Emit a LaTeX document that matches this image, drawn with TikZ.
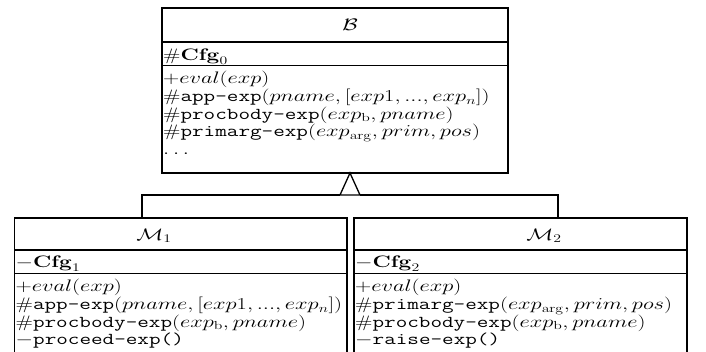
\RequirePackage{fix-cm}
\documentclass[tikz,border=0pt]{standalone}
\usepackage{amsmath}
\usepackage{graphicx}
\newcommand\sqz[1]{\scalebox{1}[0.74]{#1}}
\newcommand\umlfont{\fontsize{22.5}{23.4}\selectfont}
\tikzset{
  umlline/.style={line width=1.3pt},
  umltext/.style={anchor=base west, inner sep=0pt, font=\umlfont},
  umltitle/.style={anchor=center, inner sep=0pt, font=\umlfont},
}
\begin{document}
\begin{tikzpicture}[x=1pt,y=-1pt]
\useasboundingbox (0,0) rectangle (706,352);
\clip (0,0) rectangle (706,352);
% ---- class B
\draw[umlline] (162,8) rectangle (508,173);
\draw[umlline] (162,42) -- (508,42);
\draw[umlline] (162,65.5) -- (508,65.5);
\node[umltitle] (Bt) at (350,25) {\sqz{$\mathcal{B}$}};
\node[umltext] (Ba) at (163,60.5) {\sqz{$\#\mathbf{Cfg}_0$}};
\node[umltext] (Bo) at (163,84) {\sqz{\begin{tabular}[t]{@{}l@{}}
$+eval(exp)$\\
$\#$\texttt{app-exp}$(pname,[exp1,...,exp_n])$\\
$\#$\texttt{procbody-exp}$(exp_{\mathrm{b}},pname)$\\
$\#$\texttt{primarg-exp}$(exp_{\mathrm{arg}},prim,pos)$\\
$\ldots$
\end{tabular}}};
% ---- class M1
\draw[umlline] (14.5,218) rectangle (347,400);
\draw[umlline] (14.5,250) -- (347,250);
\draw[umlline] (14.5,273.3) -- (347,273.3);
\node[umltitle] (M1t) at (154,236) {\sqz{$\mathcal{M}_1$}};
\node[umltext] (M1a) at (15.5,268) {\sqz{$-\mathbf{Cfg}_1$}};
\node[umltext] (M1o) at (15.5,292) {\sqz{\begin{tabular}[t]{@{}l@{}}
$+eval(exp)$\\
$\#$\texttt{app-exp}$(pname,[exp1,...,exp_n])$\\
$\#$\texttt{procbody-exp}$(exp_{\mathrm{b}},pname)$\\
$-$\texttt{proceed-exp()}
\end{tabular}}};
% ---- class M2
\draw[umlline] (354,218) rectangle (687,400);
\draw[umlline] (354,250) -- (687,250);
\draw[umlline] (354,273.3) -- (687,273.3);
\node[umltitle] (M2t) at (544,236) {\sqz{$\mathcal{M}_2$}};
\node[umltext] (M2a) at (355,268) {\sqz{$-\mathbf{Cfg}_2$}};
\node[umltext] (M2o) at (355,292) {\sqz{\begin{tabular}[t]{@{}l@{}}
$+eval(exp)$\\
$\#$\texttt{primarg-exp}$(exp_{\mathrm{arg}},prim,pos)$\\
$\#$\texttt{procbody-exp}$(exp_{\mathrm{b}},pname)$\\
$-$\texttt{raise-exp()}
\end{tabular}}};
% ---- generalization
\coordinate (apex) at (350,173);
\coordinate (bl) at (340,195);
\coordinate (br) at (360,195);
\coordinate (c1) at (142,218);
\coordinate (c2) at (558,218);
\draw[umlline, line join=miter] (apex) -- (br) -- (bl) -- cycle;
\draw[umlline] (c1) |- (bl);
\draw[umlline] (br) -| (c2);
\end{tikzpicture}
\end{document}
